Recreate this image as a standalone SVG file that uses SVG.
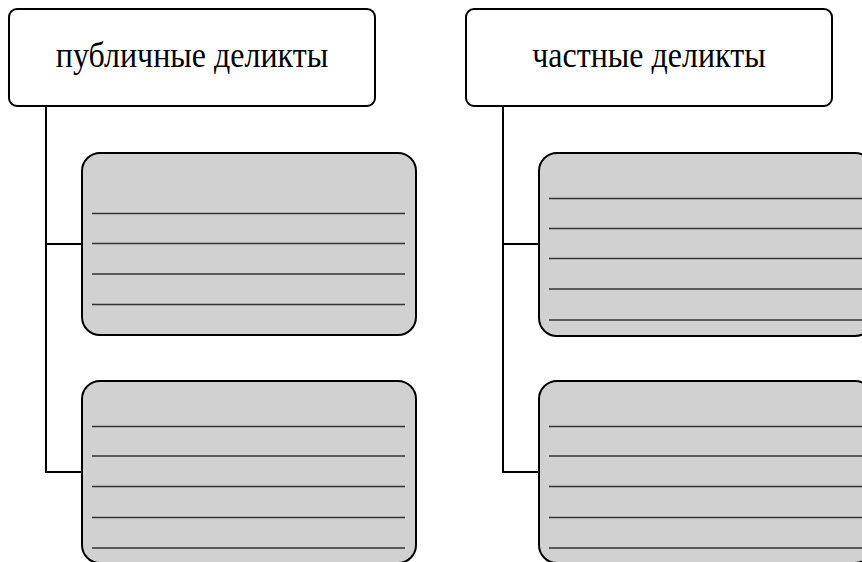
<svg xmlns="http://www.w3.org/2000/svg" width="862" height="562" viewBox="0 0 862 562">
<style>
.head{fill:#ffffff;stroke:#000;stroke-width:2}
.card{fill:#d1d1d1;stroke:#000;stroke-width:2}
.ln{stroke:#333;stroke-width:1.4}
.conn{fill:none;stroke:#000;stroke-width:2}
text{font-family:"Liberation Serif","Times New Roman",serif;font-size:32px;fill:#000;text-anchor:middle}
</style>
<rect width="862" height="562" fill="#fff"/>
<g id="connectors">
<path class="conn" d="M46 106 V472 H82 M46 244 H82"/>
<path class="conn" d="M503 106 V472 H539 M503 244 H539"/>
</g>
<g id="public">
<rect class="head" x="9" y="9" width="366" height="97" rx="8"/>
<text x="192" y="67" transform="translate(0,67) scale(1,1.1) translate(0,-67)">публичные деликты</text>
</g>
<g id="private">
<rect class="head" x="466" y="9" width="366" height="97" rx="8"/>
<text x="649" y="67" transform="translate(0,67) scale(1,1.1) translate(0,-67)">частные деликты</text>
</g>
<g id="public-1">
<rect class="card" x="82" y="153" width="334" height="182" rx="18"/>
<path class="ln" d="M92 213.5H405 M92 243.5H405 M92 274H405 M92 304.5H405"/>
</g>
<g id="public-2">
<rect class="card" x="82" y="381" width="334" height="182" rx="18"/>
<path class="ln" d="M92 426.5H405 M92 456H405 M92 486.5H405 M92 517.5H405 M92 548H405"/>
</g>
<g id="private-1">
<rect class="card" x="539" y="153" width="334" height="183" rx="18"/>
<path class="ln" d="M549 198.5H862 M549 228.5H862 M549 258.5H862 M549 289H862 M549 320H862"/>
</g>
<g id="private-2">
<rect class="card" x="539" y="381" width="334" height="182" rx="18"/>
<path class="ln" d="M549 426.5H862 M549 456H862 M549 486.5H862 M549 517.5H862 M549 548H862"/>
</g>
</svg>
